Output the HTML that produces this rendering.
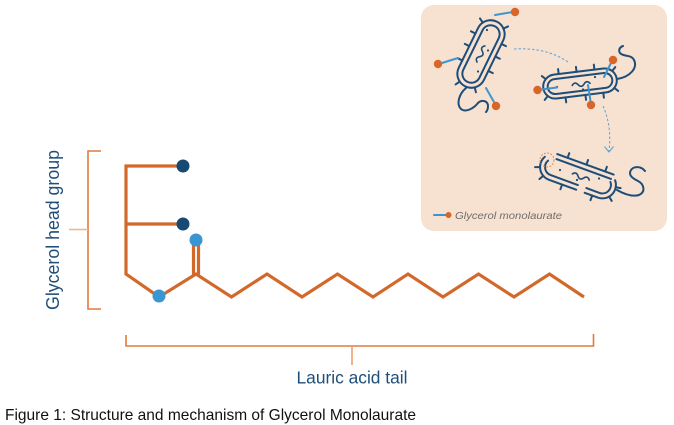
<!DOCTYPE html>
<html><head><meta charset="utf-8"><style>
html,body{margin:0;padding:0;background:#fff;}
svg{display:block;}
</style></head><body>
<svg width="674" height="425" viewBox="0 0 674 425" xmlns="http://www.w3.org/2000/svg">
<rect x="0" y="0" width="674" height="425" fill="#ffffff"/>

<!-- Inset panel -->
<rect x="421" y="5" width="246" height="226" rx="13" fill="#f7e1d1"/>

<g fill="none" stroke="#1e4d78" stroke-width="2" stroke-linecap="round">
  <!-- Bacterium 1 -->
  <g transform="translate(481,54) rotate(-64)">
    <rect x="-36" y="-14" width="72" height="28" rx="14"/>
    <rect x="-31" y="-9" width="62" height="18" rx="9"/>
    <line x1="-14" y1="-14" x2="-14" y2="-19"/>
    <line x1="2" y1="-14" x2="2" y2="-19"/>
    <line x1="16" y1="-14" x2="16" y2="-19"/>
    <line x1="-12" y1="14" x2="-12" y2="19"/>
    <line x1="4" y1="14" x2="4" y2="19"/>
    <line x1="18" y1="14" x2="18" y2="19"/>
    <line x1="29" y1="-12.1" x2="31.5" y2="-16.5"/>
    <line x1="32.7" y1="9" x2="36.6" y2="12.2"/>
    <line x1="-34.1" y1="-7" x2="-38.5" y2="-9.5"/>
    <line x1="-32.7" y1="9" x2="-36.6" y2="12.2"/>
    <path d="M -9 0 q 3 -4 6 0 t 6 0 t 6 0" stroke-width="1.6"/>
  </g>
  <!-- Bacterium 2 -->
  <g transform="translate(580,83.5) rotate(-7)">
    <rect x="-37" y="-12" width="74" height="24" rx="12"/>
    <rect x="-32.5" y="-7.5" width="65" height="15" rx="7.5"/>
    <line x1="-20" y1="-12" x2="-20" y2="-17"/>
    <line x1="-2" y1="-12" x2="-2" y2="-17"/>
    <line x1="16" y1="-12" x2="16" y2="-17"/>
    <line x1="-16" y1="12" x2="-16" y2="17"/>
    <line x1="4" y1="12" x2="4" y2="17"/>
    <line x1="22" y1="12" x2="22" y2="17"/>
    <line x1="33.5" y1="-8.5" x2="37" y2="-12"/>
    <line x1="33.5" y1="8.5" x2="37" y2="12"/>
    <line x1="-33.5" y1="-8.5" x2="-37" y2="-12"/>
    <line x1="-33.5" y1="8.5" x2="-37" y2="12"/>
    <path d="M -8 1 q 3 -4 6 0 t 6 0 t 6 0" stroke-width="1.6"/>
  </g>
  <!-- Bacterium 3 (broken membrane) -->
  <g transform="translate(578,176) rotate(20)">
    <path d="M -37.7 -6.75 A 13.5 13.5 0 0 0 -26 13.5 L 3 13.5"/>
    <path d="M -33.4 -4.25 A 8.5 8.5 0 0 0 -26 8.5 L 3 8.5"/>
    <path d="M -27 -13.5 L 33 -13.5"/>
    <path d="M -26 -8.5 L 32 -8.5"/>
    <path d="M 12 13.5 L 26 13.5 A 13.5 13.5 0 0 0 36.3 -8.7"/>
    <path d="M 12 8.5 L 26 8.5 A 8.5 8.5 0 0 0 32.5 -5.5"/>
    <line x1="-16" y1="-13.5" x2="-16" y2="-18.5"/>
    <line x1="4" y1="-13.5" x2="4" y2="-18.5"/>
    <line x1="24" y1="-13.5" x2="24" y2="-18.5"/>
    <line x1="-12" y1="13.5" x2="-12" y2="18.5"/>
    <line x1="20" y1="13.5" x2="20" y2="18.5"/>
    <line x1="-38.7" y1="4.6" x2="-43.4" y2="6.3"/>
    <line x1="-32.7" y1="11.7" x2="-35.2" y2="16"/>
    <line x1="36.3" y1="8.7" x2="40.2" y2="11.9"/>
    <line x1="39.3" y1="-2.3" x2="44.2" y2="-3.2"/>
    <path d="M -6 0 q 3 -4 6 0 t 6 0 t 6 0" stroke-width="1.6"/>
  </g>
  <!-- Flagella -->
  <path d="M 466 88 C 459 94, 456 104, 461 109 C 466 113, 474 108, 478 103 C 482 99, 488 101, 488 106 C 488 109, 487 111, 486 112"/>
  <path d="M 617 79 C 630 77, 638 68, 634 60 C 631 54, 623 57, 620 53 C 618 50, 620 47, 623 46"/>
  <path d="M 617 190 C 624 194, 632 197, 639 195 C 646 192, 644 184, 638 181 C 632 178, 628 175, 631 170 C 634 166, 641 166, 645 171"/>
</g>

<!-- interior dots -->
<g fill="#1e4d78">
  <circle cx="487" cy="30" r="1.1"/>
  <circle cx="478" cy="71.5" r="1.1"/>
  <circle cx="488" cy="50.5" r="1.1"/>
  <circle cx="595" cy="77" r="1.1"/>
  <circle cx="557" cy="87" r="1.1"/>
  <circle cx="583" cy="89.5" r="1.1"/>
  <circle cx="560" cy="170" r="1.1"/>
  <circle cx="599" cy="178.5" r="1.1"/>
  <circle cx="577" cy="180" r="1.1"/>
</g>

<!-- Dashed arrows -->
<g fill="none" stroke="#5ba4d6" stroke-width="1" stroke-dasharray="2.5 2">
  <path d="M 514 49 Q 546 47 568 62"/>
  <path d="M 603 106 Q 612 126 609 151"/>
</g>
<path d="M 604.5 146.5 L 609 152 L 613.5 146.5" fill="none" stroke="#5ba4d6" stroke-width="1.1"/>
<circle cx="547" cy="160" r="7" fill="none" stroke="#e08a52" stroke-width="1" stroke-dasharray="1.8 1.5"/>

<!-- GML molecules -->
<g stroke="#3d95cf" stroke-width="2" stroke-linecap="round">
  <line x1="495" y1="15" x2="511" y2="12.3"/>
  <line x1="442" y1="63" x2="458" y2="58"/>
  <line x1="486" y1="88" x2="494" y2="102"/>
  <line x1="541" y1="89.5" x2="557" y2="87.5"/>
  <line x1="611" y1="63" x2="604" y2="77"/>
  <line x1="588" y1="85" x2="590.5" y2="101"/>
  <line x1="434" y1="215" x2="447" y2="215"/>
</g>
<g fill="#d8662a">
  <circle cx="515" cy="12" r="4.2"/>
  <circle cx="438" cy="64" r="4.2"/>
  <circle cx="496" cy="106" r="4.2"/>
  <circle cx="537.5" cy="90" r="4.2"/>
  <circle cx="613" cy="60" r="4.2"/>
  <circle cx="591" cy="105" r="4.2"/>
  <circle cx="448.5" cy="215" r="3"/>
</g>
<text x="455" y="219" font-family="Liberation Sans, sans-serif" font-style="italic" font-size="10.5" fill="#6e6e6e" textLength="107" lengthAdjust="spacingAndGlyphs">Glycerol monolaurate</text>

<!-- Molecule structure -->
<g fill="none" stroke="#d2692b" stroke-width="3.2" stroke-linejoin="miter" stroke-linecap="butt">
  <polyline points="183,166 126,166 126,274 159,297 196,274 231.5,297 267,274 302,297 337.5,274 373,297 408,274 443,297 478.5,274 514,297 549.5,274 584,297"/>
  <line x1="126" y1="224" x2="183" y2="224"/>
  <line x1="193.5" y1="275" x2="193.5" y2="244"/>
  <line x1="198.5" y1="275" x2="198.5" y2="244"/>
</g>
<circle cx="183" cy="166" r="6.5" fill="#174a73"/>
<circle cx="183" cy="224" r="6.5" fill="#174a73"/>
<circle cx="196" cy="240" r="6.5" fill="#3a96d0"/>
<circle cx="159" cy="296" r="6.5" fill="#3a96d0"/>

<!-- Brackets -->
<g fill="none" stroke="#e07b3c" stroke-width="1.6">
  <polyline points="101,151 88,151 88,309 101,309"/>
  <polyline points="126,335 126,346 593.5,346 593.5,334"/>
</g>
<line x1="69" y1="229.5" x2="88" y2="229.5" stroke="#f0b48c" stroke-width="1.6"/>
<line x1="352" y1="346" x2="352" y2="365" stroke="#eea070" stroke-width="1.6"/>

<!-- Labels -->
<text transform="translate(59,230) rotate(-90)" text-anchor="middle" font-family="Liberation Sans, sans-serif" font-size="18" fill="#1f4e79" textLength="160" lengthAdjust="spacingAndGlyphs">Glycerol head group</text>
<text x="296.5" y="383.5" font-family="Liberation Sans, sans-serif" font-size="17.5" fill="#1f4e79" textLength="111" lengthAdjust="spacingAndGlyphs">Lauric acid tail</text>
<text x="5" y="420" font-family="Liberation Sans, sans-serif" font-size="16" fill="#111111" textLength="411" lengthAdjust="spacingAndGlyphs">Figure 1: Structure and mechanism of Glycerol Monolaurate</text>
</svg>
</body></html>
